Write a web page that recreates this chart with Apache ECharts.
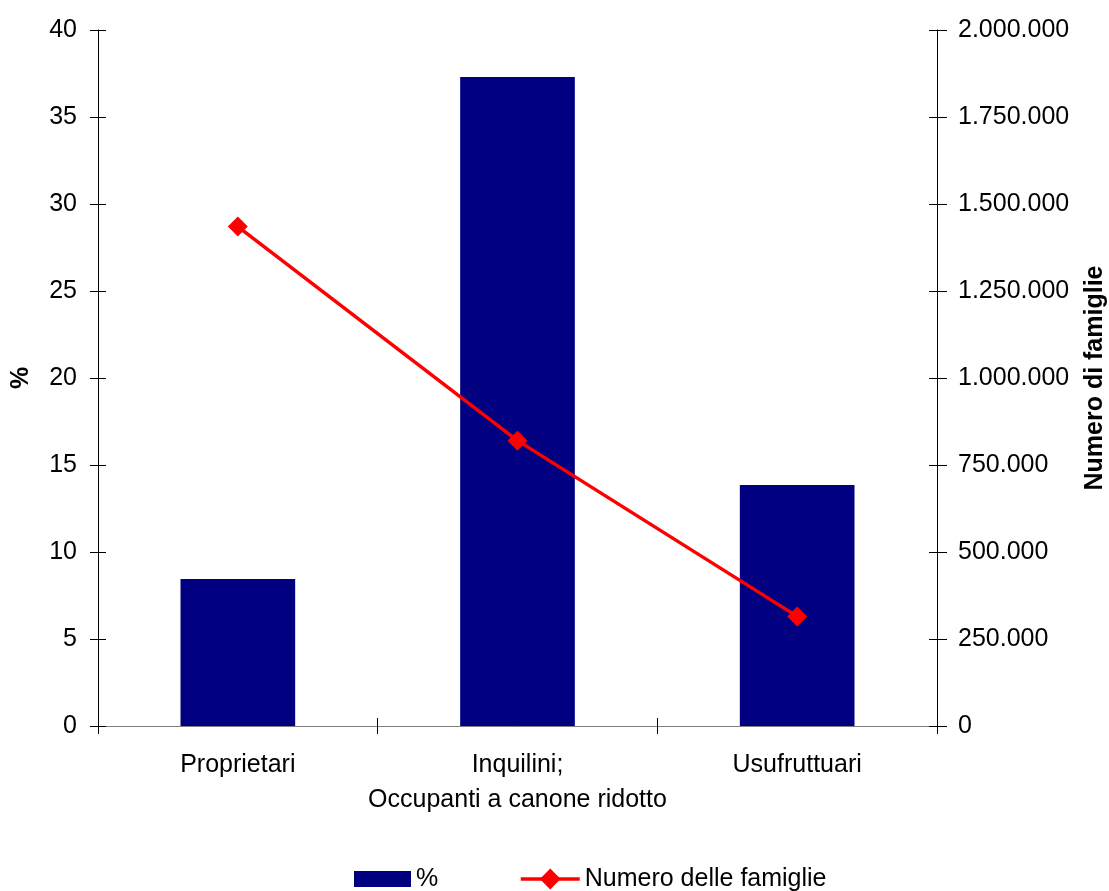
<!DOCTYPE html>
<html>
<head>
<meta charset="utf-8">
<script src="https://cdn.jsdelivr.net/npm/echarts@6/dist/echarts.min.js"></script>
<style>
html,body{margin:0;padding:0;background:#fff;}
#chart{width:1109px;height:891px;}
</style>
</head>
<body>
<div id="chart"></div>
<script>
const categories = ['Proprietari', 'Inquilini;\nOccupanti a canone ridotto', 'Usufruttuari'];
const percentValues = [8.45, 37.3, 13.85];
const familyValues = [1435000, 820000, 315000];
const seriesNames = ['%', 'Numero delle famiglie'];
const leftAxisName = '%';
const rightAxisName = 'Numero di famiglie';

const FONT = '"Liberation Sans", Arial, sans-serif';
const FS = 25;

function fmtThousands(v) {
  return String(Math.round(v)).replace(/\B(?=(\d{3})+(?!\d))/g, '.');
}

const chart = echarts.init(document.getElementById('chart'), null, {renderer: 'canvas'});
const tickStyle = {color: '#000', width: 1};
const option = {
  animation: false,
  backgroundColor: '#fff',
  textStyle: {fontFamily: FONT},
  grid: {left: 98, right: 172, top: 30, bottom: 165, containLabel: false, outerBoundsMode: 'none'},
  legend: [
    {
      left: 354, top: 865, padding: 0,
      itemWidth: 57, itemHeight: 16, itemGap: 0,
      textStyle: {fontFamily: FONT, fontSize: FS, color: '#000', lineHeight: 28},
      data: [{name: seriesNames[0], icon: 'rect'}]
    },
    {
      left: 519, top: 865, padding: 0,
      itemWidth: 59, itemHeight: 26, itemGap: 0,
      textStyle: {fontFamily: FONT, fontSize: FS, color: '#000', lineHeight: 28},
      lineStyle: {width: 3.5, color: '#ff0000'},
      data: [{name: seriesNames[1]}]
    }
  ],
  xAxis: [
    {
      type: 'category', data: categories, position: 'bottom',
      axisLine: {show: true, lineStyle: {color: '#000', width: 1}},
      axisTick: {show: true, inside: false, length: 8, alignWithLabel: false, lineStyle: tickStyle},
      axisLabel: {fontFamily: FONT, fontSize: FS, color: '#000', margin: 21.5, lineHeight: 35, interval: 0}
    },
    {
      type: 'category', data: categories, position: 'bottom',
      axisLine: {show: false},
      axisTick: {show: true, inside: true, length: 8, alignWithLabel: false, lineStyle: tickStyle},
      axisLabel: {show: false}
    },
    {
      type: 'category', data: categories, position: 'top',
      axisLine: {show: true, lineStyle: {color: '#808080', width: 1}},
      axisTick: {show: false},
      axisLabel: {show: false}
    }
  ],
  yAxis: [
    {
      type: 'value', position: 'left', min: 0, max: 40, interval: 5,
      name: leftAxisName, nameLocation: 'middle', nameGap: 64, nameRotate: 90,
      nameTextStyle: {fontFamily: FONT, fontSize: FS, fontWeight: 'bold', color: '#000'},
      axisLine: {show: true, lineStyle: {color: '#000', width: 1}},
      axisTick: {show: true, inside: false, length: 8, lineStyle: tickStyle},
      axisLabel: {fontFamily: FONT, fontSize: FS, color: '#000', margin: 21},
      splitLine: {show: false}
    },
    {
      type: 'value', position: 'right', min: 0, max: 2000000, interval: 250000,
      name: rightAxisName, nameLocation: 'middle', nameGap: 146, nameRotate: 90,
      nameTextStyle: {fontFamily: FONT, fontSize: FS, fontWeight: 'bold', color: '#000'},
      axisLine: {show: true, lineStyle: {color: '#000', width: 1}},
      axisTick: {show: true, inside: false, length: 10, lineStyle: tickStyle},
      axisLabel: {fontFamily: FONT, fontSize: FS, color: '#000', margin: 21, formatter: fmtThousands},
      splitLine: {show: false}
    },
    {
      type: 'value', position: 'left', min: 0, max: 40, interval: 5,
      axisLine: {show: false},
      axisTick: {show: true, inside: true, length: 8, lineStyle: tickStyle},
      axisLabel: {show: false}, splitLine: {show: false}
    },
    {
      type: 'value', position: 'right', min: 0, max: 2000000, interval: 250000,
      axisLine: {show: false},
      axisTick: {show: true, inside: true, length: 8, lineStyle: tickStyle},
      axisLabel: {show: false}, splitLine: {show: false}
    }
  ],
  series: [
    {
      name: seriesNames[0], type: 'bar', xAxisIndex: 0, yAxisIndex: 0,
      data: percentValues, barWidth: '41%',
      itemStyle: {color: '#000080'}
    },
    {
      name: seriesNames[1], type: 'line', xAxisIndex: 0, yAxisIndex: 1,
      data: familyValues, symbol: 'diamond', symbolSize: 20,
      lineStyle: {color: '#ff0000', width: 3.5},
      itemStyle: {color: '#ff0000'}
    }
  ]
};
chart.setOption(option);
</script>
</body>
</html>
